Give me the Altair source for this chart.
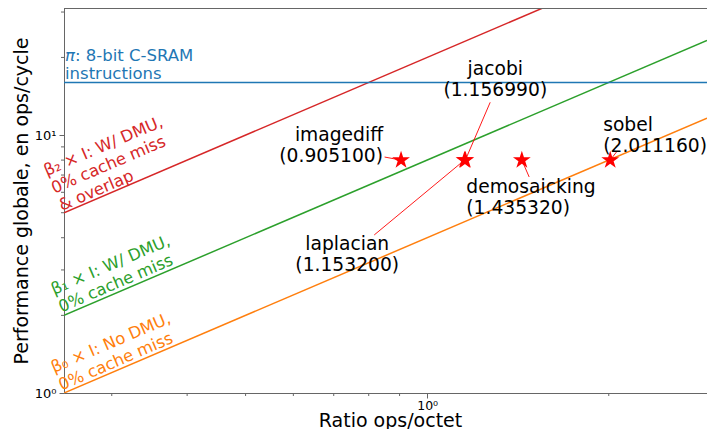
import math
import altair as alt
import pandas as pd

# ---- data ----
x_min, x_max = 0.25, 2.91
y_min, y_max = 1.0, 31.1

pi_peak = 16.0
roof_names = ["beta0", "beta1", "beta2"]
roof_betas = [4.0, 8.0, 20.0]
roof_colors = ["#ff7f0e", "#2ca02c", "#d62728"]

bench_names = ["imagediff", "jacobi", "laplacian", "demosaicking", "sobel"]
bench_intensity = [0.905100, 1.156990, 1.153200, 1.435320, 2.011160]
bench_perf = [8.0, 8.0, 8.0, 8.0, 8.0]
# annotation text positions (data coords) and arrow start points
label_x = [0.845, 1.297, 0.737, 1.161, 1.958]
label_y = [9.99, 18.0, 3.77, 6.31, 10.98]
label_align = ["right", "center", "center", "left", "left"]
arrow_x = [0.850, 1.272, 0.817, 1.476, 2.06]
arrow_y = [8.22, 13.4, 4.10, 6.88, 8.6]

roof_label_text = [
    "β₀ × I: No DMU,\n0% cache miss",
    "β₁ × I: W/ DMU,\n0% cache miss",
    "β₂ × I: W/ DMU,\n0% cache miss\n& overlap",
]
roof_label_x = [0.2406, 0.2406, 0.234]
roof_label_y = [1.195, 2.40, 6.93]

x_major = [1.0]
x_minor = [0.3, 0.4, 0.5, 0.6, 0.7, 0.8, 0.9, 2.0]
y_major = [1, 10]
y_minor = [2, 3, 4, 5, 6, 7, 8, 9, 20, 30]

FONT = "DejaVu Sans"
W, H = 643, 385
AX = "#666666"

# five-pointed star marker path (unit square coordinates)
pts = []
for k in range(10):
    r = 1.0 if k % 2 == 0 else 0.382
    a = math.radians(-90 + 36 * k)
    pts.append(f"{r * math.cos(a):.4f},{r * math.sin(a):.4f}")
STAR = "M" + " L".join(pts) + " Z"

# ---- tables ----
rows = []
for n, b in zip(roof_names, roof_betas):
    rows.append({"s": n, "x": x_min, "y": b * x_min})
    rows.append({"s": n, "x": x_max, "y": b * x_max})
rows.append({"s": "pi", "x": x_min, "y": pi_peak})
rows.append({"s": "pi", "x": x_max, "y": pi_peak})
lines_df = pd.DataFrame(rows)

bench_df = pd.DataFrame({
    "name": bench_names, "I": bench_intensity, "P": bench_perf,
    "lx": label_x, "ly": label_y, "align": label_align,
    "ax": arrow_x, "ay": arrow_y,
    "label": [f"{n}\n({v:.6f})" for n, v in zip(bench_names, bench_intensity)],
})

roof_lab_df = pd.DataFrame({
    "s": roof_names, "text": roof_label_text,
    "x": roof_label_x, "y": roof_label_y,
})

xscale = alt.Scale(type="log", domain=[x_min, x_max], nice=False)
yscale = alt.Scale(type="log", domain=[y_min, y_max], nice=False)
color_scale = alt.Scale(domain=roof_names + ["pi"], range=roof_colors + ["#1f77b4"])

xaxis = alt.Axis(
    values=x_major, grid=False, title="Ratio ops/octet",
    labelExpr="'10⁰'", tickSize=5,
    titleFontSize=19, titleFont=FONT, titleFontWeight="normal", titleColor="black",
    titleX=326, titleAlign="center", titleY=33, titleBaseline="alphabetic",
    labelFontSize=12.5, labelFont=FONT, labelColor="black", labelPadding=1,
    domainColor=AX, tickColor=AX,
)
yaxis = alt.Axis(
    values=y_major, grid=False, title="Performance globale, en ops/cycle",
    labelExpr="datum.value == 1 ? '10⁰' : '10¹'", tickSize=5,
    titleFontSize=19, titleFont=FONT, titleFontWeight="normal", titleColor="black",
    titlePadding=3,
    labelFontSize=13, labelFont=FONT, labelColor="black", labelPadding=3,
    domainColor=AX, tickColor=AX,
)

lines = alt.Chart(lines_df).mark_line(strokeWidth=1.5, clip=True).encode(
    x=alt.X("x:Q", scale=xscale, axis=xaxis),
    y=alt.Y("y:Q", scale=yscale, axis=yaxis),
    color=alt.Color("s:N", scale=color_scale, legend=None),
    detail="s:N",
)

xminor_df = pd.DataFrame({"v": x_minor})
yminor_df = pd.DataFrame({"v": y_minor})
xminor = alt.Chart(xminor_df).mark_rule(color=AX, strokeWidth=1).encode(
    x=alt.X("v:Q", scale=xscale), y=alt.value(H), y2=alt.value(H + 3)
)
yminor = alt.Chart(yminor_df).mark_rule(color=AX, strokeWidth=1).encode(
    y=alt.Y("v:Q", scale=yscale), x=alt.value(0), x2=alt.value(-3)
)

arrows = alt.Chart(bench_df).mark_rule(color="#ff0000", strokeWidth=0.9).encode(
    x=alt.X("ax:Q", scale=xscale), y=alt.Y("ay:Q", scale=yscale),
    x2="I:Q", y2="P:Q",
)

stars = alt.Chart(bench_df).mark_point(
    shape=STAR, filled=True, color="#ff0000", size=350, opacity=1, strokeWidth=0
).encode(x=alt.X("I:Q", scale=xscale), y=alt.Y("P:Q", scale=yscale))

texts = []
for al in ["left", "center", "right"]:
    sub = bench_df[bench_df["align"] == al]
    texts.append(
        alt.Chart(sub).mark_text(
            align=al, baseline="middle", lineBreak="\n", fontSize=18.7,
            font=FONT, color="black", lineHeight=21,
        ).encode(x=alt.X("lx:Q", scale=xscale), y=alt.Y("ly:Q", scale=yscale), text="label:N")
    )

roof_labels = alt.Chart(roof_lab_df).mark_text(
    align="left", baseline="alphabetic", angle=336.8, lineBreak="\n",
    fontSize=16.4, font=FONT, lineHeight=19,
).encode(
    x=alt.X("x:Q", scale=xscale), y=alt.Y("y:Q", scale=yscale), text="text:N",
    color=alt.Color("s:N", scale=color_scale, legend=None),
)

pi_df = pd.DataFrame({"x": [x_min], "y": [pi_peak], "t1": ["π"], "t2": [": 8-bit C-SRAM"], "t3": ["instructions"]})
pi_sym = alt.Chart(pi_df).mark_text(
    align="left", baseline="alphabetic", fontSize=16.5, font=FONT,
    fontStyle="italic", color="#1f77b4", dx=1, dy=-21,
).encode(x=alt.X("x:Q", scale=xscale), y=alt.Y("y:Q", scale=yscale), text="t1:N")
pi_rest = alt.Chart(pi_df).mark_text(
    align="left", baseline="alphabetic", fontSize=16.5, font=FONT,
    color="#1f77b4", dx=11, dy=-21,
).encode(x=alt.X("x:Q", scale=xscale), y=alt.Y("y:Q", scale=yscale), text="t2:N")
pi_line2 = alt.Chart(pi_df).mark_text(
    align="left", baseline="alphabetic", fontSize=16.5, font=FONT,
    color="#1f77b4", dx=1, dy=-3,
).encode(x=alt.X("x:Q", scale=xscale), y=alt.Y("y:Q", scale=yscale), text="t3:N")

top_border = alt.Chart(pi_df).mark_rule(color=AX, strokeWidth=1).encode(
    x=alt.value(0), x2=alt.value(W), y=alt.value(0.5)
)

chart = alt.layer(
    lines, xminor, yminor, arrows, stars, *texts, roof_labels,
    pi_sym, pi_rest, pi_line2, top_border
).properties(
    width=W, height=H,
    autosize=alt.AutoSizeParams(type="none"),
    padding={"left": 56, "top": 0, "right": 0, "bottom": 36},
).configure_view(stroke=None).configure(background="white")

chart.save("out.html", embed_options={"renderer": "svg", "actions": False})
